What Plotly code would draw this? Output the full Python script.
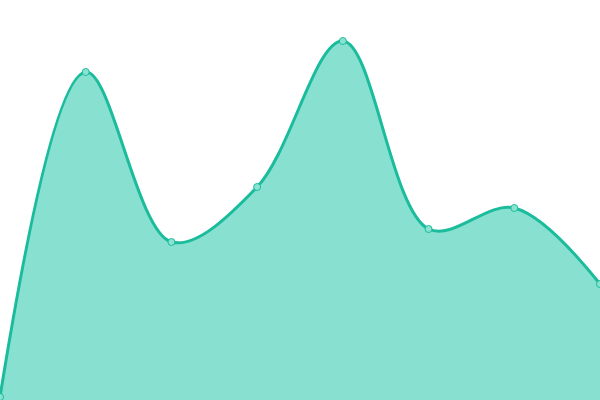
import plotly.graph_objects as go

x_vals = [0, 1, 2, 3, 4, 5, 6, 7]
y_vals = [3, 328, 158, 213, 359, 171, 192, 116]

fig = go.Figure()
fig.add_trace(go.Scatter(
    x=x_vals, y=y_vals,
    mode="lines+markers",
    line=dict(color="#1abc9c", width=3, shape="spline", smoothing=1),
    fill="tozeroy",
    fillcolor="#88e0d0",
    marker=dict(size=7, color="#8ae3d1", line=dict(color="#1abc9c", width=1)),
    cliponaxis=False,
    hoverinfo="skip",
))
fig.update_layout(
    width=600, height=400,
    margin=dict(l=0, r=0, t=0, b=0),
    paper_bgcolor="white", plot_bgcolor="white",
    showlegend=False,
    xaxis=dict(range=[0, 7], visible=False, fixedrange=True),
    yaxis=dict(range=[0, 400], visible=False, fixedrange=True),
)
fig.write_html(
    "out.html",
    config={"displayModeBar": False},
    post_script="document.body.style.margin='0';document.body.style.overflow='hidden';",
)
